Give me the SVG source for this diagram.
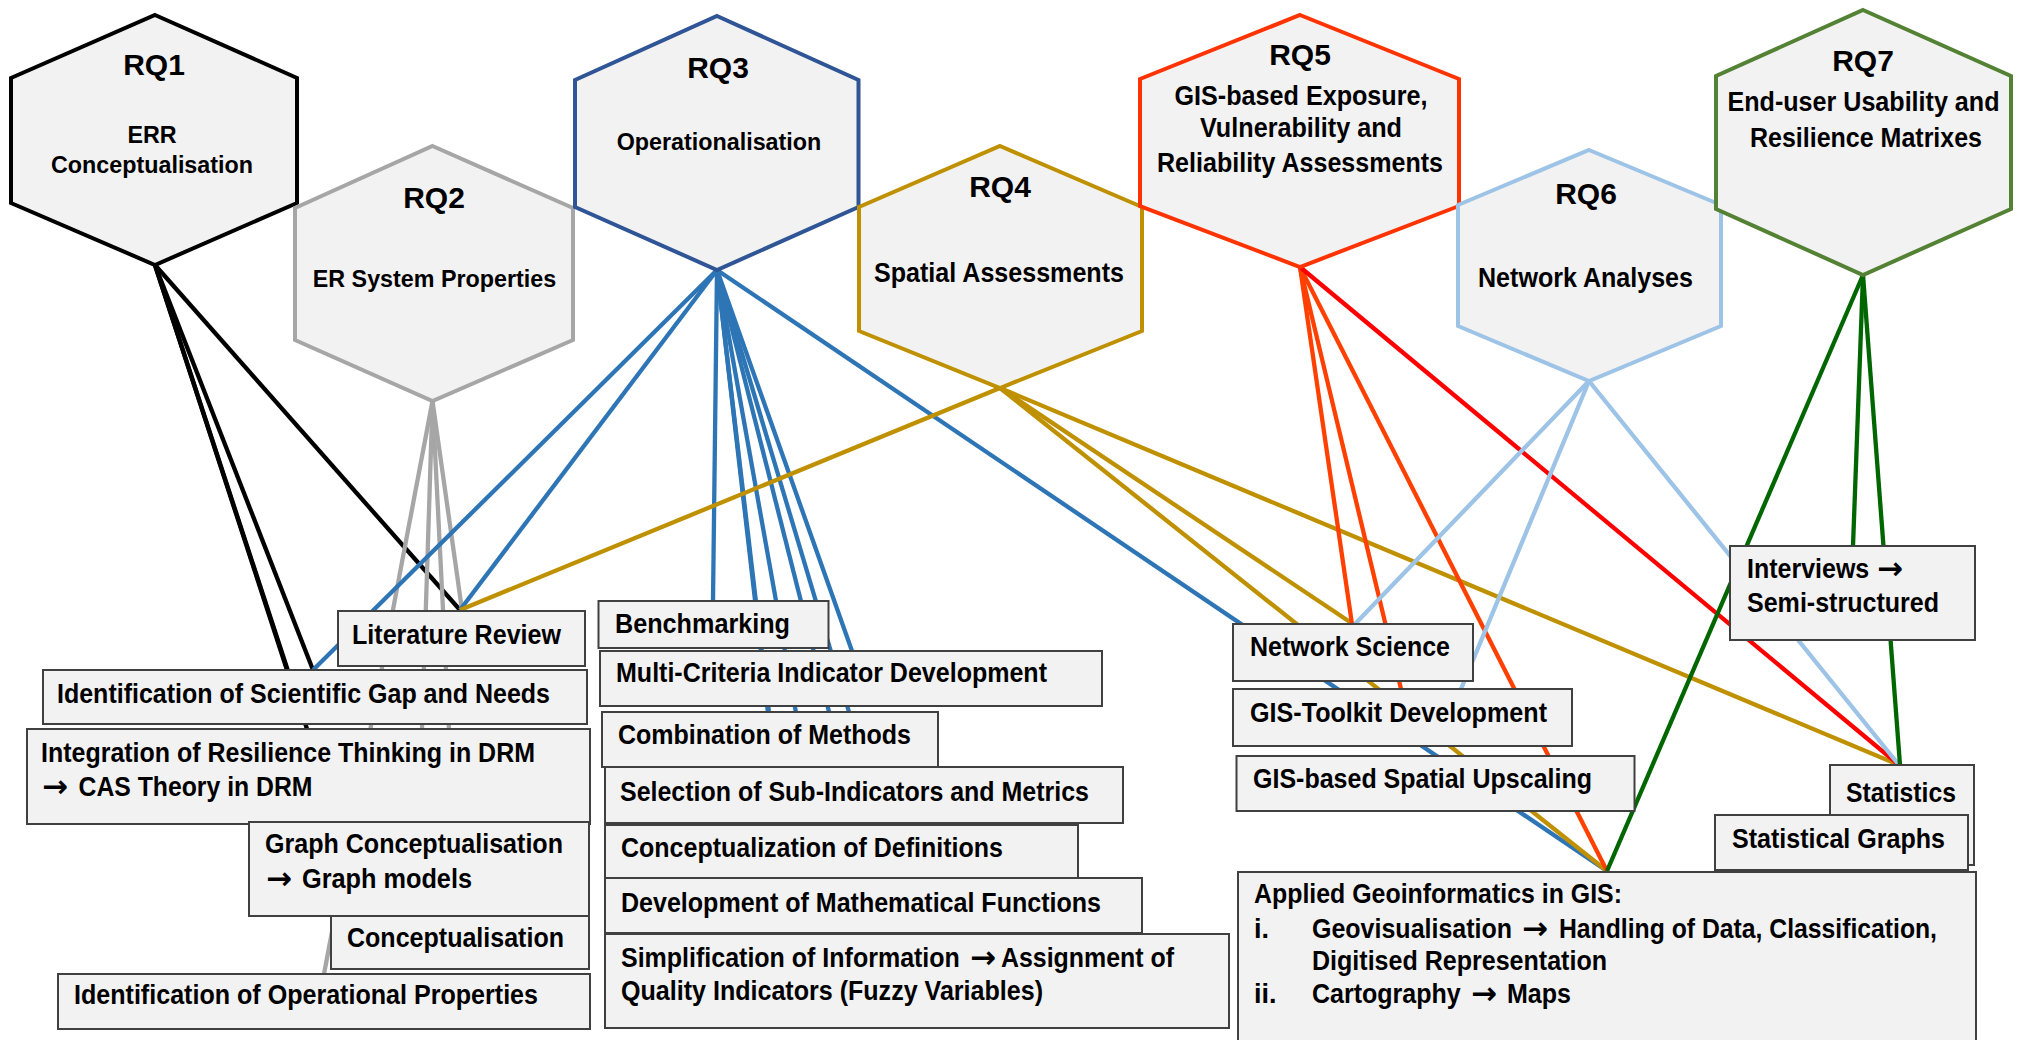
<svg xmlns="http://www.w3.org/2000/svg" width="2018" height="1040" viewBox="0 0 2018 1040">
  <style>
    .hex { fill: #F2F2F2; stroke-width: 4; stroke-linejoin: miter; }
    .box { fill: #F2F2F2; stroke: #404040; stroke-width: 2; }
    text { font-family: "Liberation Sans", Arial, sans-serif; font-weight: bold; fill: #000; }
    .rq { font-size: 30px; text-anchor: middle; }
    .sub { font-size: 23.3px; text-anchor: middle; }
    .subw { font-size: 27px; text-anchor: middle; }
    .bt { font-size: 27px; }
    text.arr { font-family: "DejaVu Sans", sans-serif; font-size: 31px; }
    .conn line { fill: none; stroke-width: 4.3; stroke-linecap: butt; }
    .k { stroke: #000000; }
    .g { stroke: #A6A6A6; }
    .b { stroke: #2E75B6; }
    .y { stroke: #BF9000; }
    .o { stroke: #FF4000; }
    .r { stroke: #FF0000; }
    .lb { stroke: #9DC3E6; }
    .dg { stroke: #006600; }
  </style>

  <!-- connectors from each research question to its methods -->
  <g id="connectors" class="conn">
    <!-- RQ1 -->
    <line class="k" x1="155" y1="265" x2="287" y2="670"/>
    <line class="k" x1="155" y1="265" x2="307" y2="729"/>
    <line class="k" x1="155" y1="265" x2="313" y2="670"/>
    <line class="k" x1="155" y1="265" x2="460" y2="610"/>
    <!-- RQ2 -->
    <line class="g" x1="432.5" y1="401" x2="462" y2="610"/>
    <line class="g" x1="432.5" y1="401" x2="449" y2="729"/>
    <line class="g" x1="432.5" y1="401" x2="419" y2="822"/>
    <line class="g" x1="432.5" y1="401" x2="324" y2="974"/>
    <!-- RQ3 -->
    <line class="b" x1="717" y1="270" x2="313" y2="670"/>
    <line class="b" x1="717" y1="270" x2="460" y2="610"/>
    <line class="b" x1="717" y1="270" x2="713" y2="601"/>
    <line class="b" x1="717" y1="270" x2="852" y2="651"/>
    <line class="b" x1="717" y1="270" x2="849" y2="712"/>
    <line class="b" x1="717" y1="270" x2="843" y2="767"/>
    <line class="b" x1="717" y1="270" x2="816" y2="825"/>
    <line class="b" x1="717" y1="270" x2="787" y2="878"/>
    <line class="b" x1="717" y1="270" x2="795" y2="934"/>
    <line class="b" x1="717" y1="270" x2="1607" y2="871"/>
    <!-- RQ4 -->
    <line class="y" x1="1000" y1="388" x2="460" y2="610"/>
    <line class="y" x1="1000" y1="388" x2="1353" y2="624"/>
    <line class="y" x1="1000" y1="388" x2="1607" y2="871"/>
    <line class="y" x1="1000" y1="388" x2="1899" y2="765"/>
    <!-- RQ5 -->
    <line class="o" x1="1300" y1="267" x2="1352" y2="624"/>
    <line class="o" x1="1300" y1="267" x2="1401" y2="689"/>
    <line class="o" x1="1300" y1="267" x2="1607" y2="871"/>
    <line class="r" x1="1300" y1="267" x2="1899" y2="765"/>
    <!-- RQ6 -->
    <line class="lb" x1="1589" y1="381" x2="1355" y2="624"/>
    <line class="lb" x1="1589" y1="381" x2="1461" y2="689"/>
    <line class="lb" x1="1589" y1="381" x2="1899" y2="765"/>
    <!-- RQ7 -->
    <line class="dg" x1="1863" y1="275" x2="1607" y2="871"/>
    <line class="dg" x1="1863" y1="275" x2="1853" y2="546"/>
    <line class="dg" x1="1863" y1="275" x2="1900" y2="765"/>
  </g>

  <!-- research question hexagons -->
  <g id="rq1">
    <polygon class="hex" stroke="#000000" points="155,15 297,78 297,203 155,265 11,203 11,78"/>
    <text class="rq" x="154" y="75">RQ1</text>
    <text class="sub" x="152" y="143">ERR</text>
    <text class="sub" x="152" y="173">Conceptualisation</text>
  </g>
  <g id="rq2">
    <polygon class="hex" stroke="#A6A6A6" points="432.5,146 573,208 573,340 432.5,401 295,340 295,208"/>
    <text class="rq" x="434" y="208">RQ2</text>
    <text class="sub" x="434.5" y="287">ER System Properties</text>
  </g>
  <g id="rq3">
    <polygon class="hex" stroke="#2F5597" points="717,16 858.5,80 858.5,207 717,270 575,207 575,80"/>
    <text class="rq" x="718" y="78">RQ3</text>
    <text class="sub" x="719" y="150">Operationalisation</text>
  </g>
  <g id="rq4">
    <polygon class="hex" stroke="#BF9000" points="1000,146 1142,207 1142,331 1000,388 859,331 859,207"/>
    <text class="rq" x="1000" y="197">RQ4</text>
    <text class="subw" x="999" y="282" textLength="250" lengthAdjust="spacingAndGlyphs">Spatial Assessments</text>
  </g>
  <g id="rq5">
    <polygon class="hex" stroke="#FF3300" points="1300,15 1459,79 1459,206 1300,267 1140,206 1140,79"/>
    <text class="rq" x="1300" y="65">RQ5</text>
    <text class="subw" x="1301" y="105" textLength="253" lengthAdjust="spacingAndGlyphs">GIS-based Exposure,</text>
    <text class="subw" x="1301" y="137" textLength="202" lengthAdjust="spacingAndGlyphs">Vulnerability and</text>
    <text class="subw" x="1300" y="172" textLength="286" lengthAdjust="spacingAndGlyphs">Reliability Assessments</text>
  </g>
  <g id="rq6">
    <polygon class="hex" stroke="#9DC3E6" points="1589,150 1721,205 1721,326 1589,381 1458,326 1458,205"/>
    <text class="rq" x="1586" y="204">RQ6</text>
    <text class="subw" x="1585.5" y="287" textLength="215" lengthAdjust="spacingAndGlyphs">Network Analyses</text>
  </g>
  <g id="rq7">
    <polygon class="hex" stroke="#548235" points="1863,10 2011,76 2011,209 1863,275 1716,209 1716,76"/>
    <text class="rq" x="1863" y="71">RQ7</text>
    <text class="subw" x="1863.5" y="111" textLength="272" lengthAdjust="spacingAndGlyphs">End-user Usability and</text>
    <text class="subw" x="1866" y="147" textLength="232" lengthAdjust="spacingAndGlyphs">Resilience Matrixes</text>
  </g>

  <!-- method boxes: left column -->
  <g id="literature-review">
    <rect class="box" x="338" y="611" width="247" height="55"/>
    <text class="bt" x="352" y="644" textLength="209" lengthAdjust="spacingAndGlyphs">Literature Review</text>
  </g>
  <g id="scientific-gap">
    <rect class="box" x="43" y="670" width="544" height="54"/>
    <text class="bt" x="57" y="703" textLength="493" lengthAdjust="spacingAndGlyphs">Identification of Scientific Gap and Needs</text>
  </g>
  <g id="resilience-thinking">
    <rect class="box" x="27" y="729" width="563" height="95"/>
    <text class="bt" x="41" y="762" textLength="494" lengthAdjust="spacingAndGlyphs">Integration of Resilience Thinking in DRM</text>
    <text class="arr" x="42" y="797">→</text>
    <text class="bt" x="78.5" y="796" textLength="234" lengthAdjust="spacingAndGlyphs">CAS Theory in DRM</text>
  </g>
  <g id="graph-conceptualisation">
    <rect class="box" x="249" y="822" width="340" height="94"/>
    <text class="bt" x="265" y="853" textLength="298" lengthAdjust="spacingAndGlyphs">Graph Conceptualisation</text>
    <text class="arr" x="266" y="889">→</text>
    <text class="bt" x="302" y="888" textLength="170" lengthAdjust="spacingAndGlyphs">Graph models</text>
  </g>
  <g id="conceptualisation">
    <rect class="box" x="331" y="916" width="258" height="53"/>
    <text class="bt" x="347" y="947" textLength="217" lengthAdjust="spacingAndGlyphs">Conceptualisation</text>
  </g>
  <g id="operational-properties">
    <rect class="box" x="58" y="974" width="532" height="55"/>
    <text class="bt" x="74" y="1004" textLength="464" lengthAdjust="spacingAndGlyphs">Identification of Operational Properties</text>
  </g>

  <!-- method boxes: middle column -->
  <g id="benchmarking">
    <rect class="box" x="598.5" y="601" width="230" height="47"/>
    <text class="bt" x="615" y="633" textLength="175" lengthAdjust="spacingAndGlyphs">Benchmarking</text>
  </g>
  <g id="multi-criteria">
    <rect class="box" x="600" y="651" width="502" height="55"/>
    <text class="bt" x="616" y="682" textLength="431" lengthAdjust="spacingAndGlyphs">Multi-Criteria Indicator Development</text>
  </g>
  <g id="combination">
    <rect class="box" x="602" y="712" width="336" height="55"/>
    <text class="bt" x="618" y="744" textLength="293" lengthAdjust="spacingAndGlyphs">Combination of Methods</text>
  </g>
  <g id="sub-indicators">
    <rect class="box" x="605" y="767" width="518" height="56"/>
    <text class="bt" x="620" y="801" textLength="469" lengthAdjust="spacingAndGlyphs">Selection of Sub-Indicators and Metrics</text>
  </g>
  <g id="definitions">
    <rect class="box" x="605" y="825" width="473" height="53"/>
    <text class="bt" x="621" y="857" textLength="382" lengthAdjust="spacingAndGlyphs">Conceptualization of Definitions</text>
  </g>
  <g id="math-functions">
    <rect class="box" x="605" y="878" width="537" height="55"/>
    <text class="bt" x="621" y="912" textLength="480" lengthAdjust="spacingAndGlyphs">Development of Mathematical Functions</text>
  </g>
  <g id="simplification">
    <rect class="box" x="605" y="934" width="624" height="94"/>
    <text class="bt" transform="translate(621 967) scale(0.926 1)">Simplification of Information</text>
    <text class="arr" x="970" y="968">→</text>
    <text class="bt" x="1001" y="967" textLength="173" lengthAdjust="spacingAndGlyphs">Assignment of</text>
    <text class="bt" x="621" y="1000" textLength="422" lengthAdjust="spacingAndGlyphs">Quality Indicators (Fuzzy Variables)</text>
  </g>

  <!-- method boxes: right column -->
  <g id="network-science">
    <rect class="box" x="1233" y="624" width="240" height="57"/>
    <text class="bt" x="1250" y="656" textLength="200" lengthAdjust="spacingAndGlyphs">Network Science</text>
  </g>
  <g id="gis-toolkit">
    <rect class="box" x="1233" y="689" width="339" height="57"/>
    <text class="bt" x="1250" y="722" textLength="297" lengthAdjust="spacingAndGlyphs">GIS-Toolkit Development</text>
  </g>
  <g id="spatial-upscaling">
    <rect class="box" x="1236.5" y="756" width="398" height="55"/>
    <text class="bt" x="1253" y="788" textLength="339" lengthAdjust="spacingAndGlyphs">GIS-based Spatial Upscaling</text>
  </g>
  <g id="interviews">
    <rect class="box" x="1730" y="546" width="245" height="94"/>
    <text class="bt" transform="translate(1747 578) scale(0.926 1)">Interviews</text>
    <text class="arr" x="1877" y="579">→</text>
    <text class="bt" x="1747" y="612" textLength="192" lengthAdjust="spacingAndGlyphs">Semi-structured</text>
  </g>
  <g id="statistics">
    <rect class="box" x="1830" y="765" width="144" height="100"/>
    <text class="bt" x="1846" y="802" textLength="110" lengthAdjust="spacingAndGlyphs">Statistics</text>
  </g>
  <g id="statistical-graphs">
    <rect class="box" x="1715" y="815" width="253" height="55"/>
    <text class="bt" x="1732" y="848" textLength="213" lengthAdjust="spacingAndGlyphs">Statistical Graphs</text>
  </g>
  <g id="applied-geoinformatics">
    <rect class="box" x="1238" y="872" width="738" height="180"/>
    <text class="bt" x="1254" y="903" textLength="368" lengthAdjust="spacingAndGlyphs">Applied Geoinformatics in GIS:</text>
    <text class="bt" x="1254" y="938">i.</text>
    <text class="bt" transform="translate(1312 938) scale(0.926 1)">Geovisualisation</text>
    <text class="arr" x="1522" y="939">→</text>
    <text class="bt" x="1559" y="938" textLength="378" lengthAdjust="spacingAndGlyphs">Handling of Data, Classification,</text>
    <text class="bt" x="1312" y="970" textLength="295" lengthAdjust="spacingAndGlyphs">Digitised Representation</text>
    <text class="bt" x="1254" y="1003">ii.</text>
    <text class="bt" transform="translate(1312 1003) scale(0.926 1)">Cartography</text>
    <text class="arr" x="1471" y="1004">→</text>
    <text class="bt" x="1507" y="1003" textLength="64" lengthAdjust="spacingAndGlyphs">Maps</text>
  </g>
</svg>
